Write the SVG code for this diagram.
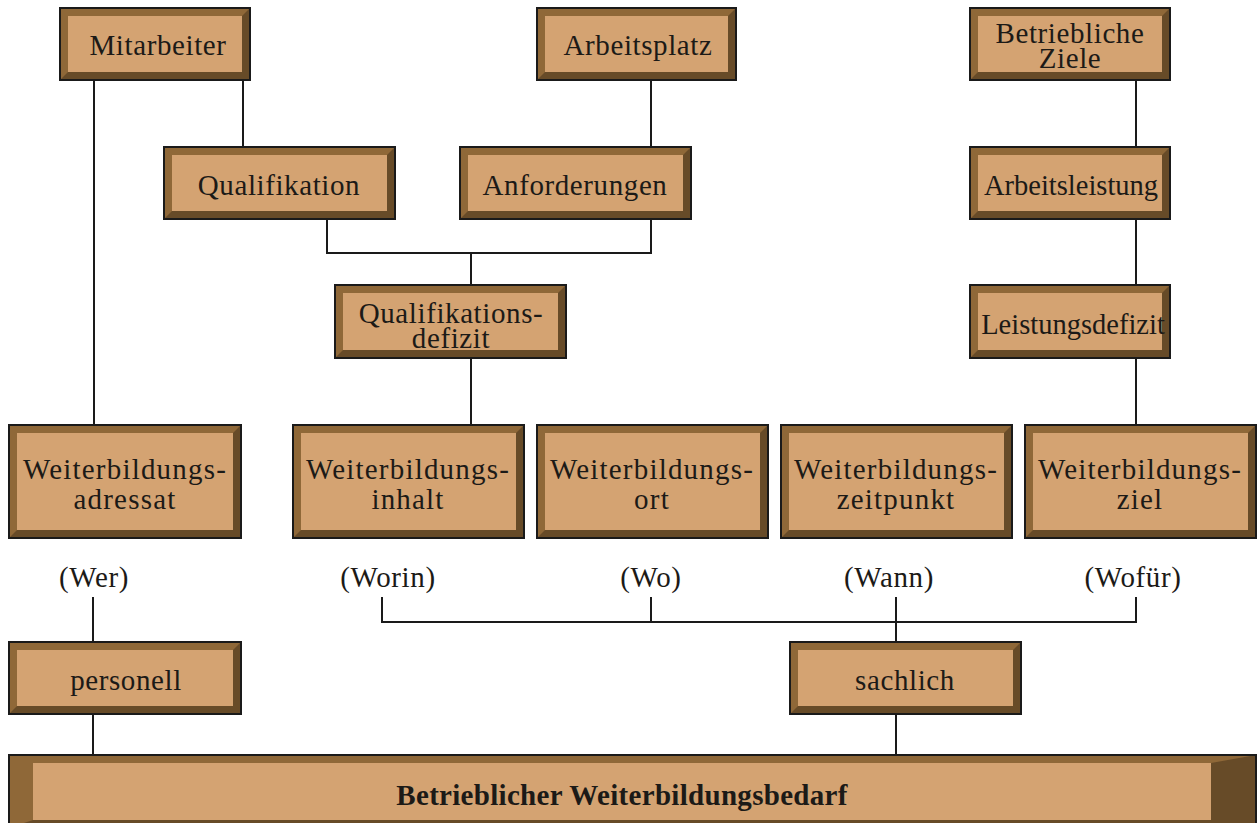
<svg xmlns="http://www.w3.org/2000/svg" width="1260" height="823" viewBox="0 0 1260 823">
  <style>
    .dark { fill: #674B28; }
    .light { fill: #8F6838; }
    .face { fill: #D4A372; }
    .edge { fill: none; stroke: #1a1a1a; stroke-width: 2; }
    .lbl { font-family: "Liberation Serif", "Times New Roman", serif; font-size: 29px; letter-spacing: 0.6px; fill: #1c1a17; text-anchor: middle; }
    .wide { letter-spacing: 1.2px; }
    .tight { font-size: 28.5px; letter-spacing: 0; }
    .bold { font-weight: bold; font-size: 29px; letter-spacing: 0.3px; }
    .conn { fill: none; stroke: #1a1a1a; stroke-width: 2; }
  </style>

  <rect width="1260" height="823" fill="#ffffff"/>

  <!-- connectors -->
  <g id="connectors" class="conn">
    <path d="M94 80 V425"/>
    <path d="M243 80 V147"/>
    <path d="M651 80 V147"/>
    <path d="M327 219 V253 H651 V219"/>
    <path d="M471 253 V285"/>
    <path d="M471 358 V425"/>
    <path d="M1136 80 V147"/>
    <path d="M1136 219 V285"/>
    <path d="M1136 358 V425"/>
    <path d="M93 597 V642"/>
    <path d="M93 714 V755"/>
    <path d="M382 597 V622 H1136 V597"/>
    <path d="M651 597 V622"/>
    <path d="M896 597 V642"/>
    <path d="M896 714 V755"/>
  </g>

  <!-- node: Mitarbeiter -->
  <g id="n-mitarbeiter">
    <rect class="dark" x="60" y="8" width="190" height="72"/>
    <polygon class="light" points="60,8 250,8 242,16 68,16 68,72 60,80"/>
    <rect class="face" x="68" y="16" width="174" height="56"/>
    <rect class="edge" x="60" y="8" width="190" height="72"/>
    <text class="lbl" x="158" y="55">Mitarbeiter</text>
  </g>

  <!-- node: Arbeitsplatz -->
  <g id="n-arbeitsplatz">
    <rect class="dark" x="537" y="8" width="199" height="72"/>
    <polygon class="light" points="537,8 736,8 728,16 545,16 545,72 537,80"/>
    <rect class="face" x="545" y="16" width="183" height="56"/>
    <rect class="edge" x="537" y="8" width="199" height="72"/>
    <text class="lbl" x="638" y="55">Arbeitsplatz</text>
  </g>

  <!-- node: Betriebliche Ziele -->
  <g id="n-ziele">
    <rect class="dark" x="970" y="8" width="200" height="72"/>
    <polygon class="light" points="970,8 1170,8 1162,16 978,16 978,72 970,80"/>
    <rect class="face" x="978" y="16" width="184" height="56"/>
    <rect class="edge" x="970" y="8" width="200" height="72"/>
    <text class="lbl" x="1070" y="43">Betriebliche</text>
    <text class="lbl" x="1070" y="68">Ziele</text>
  </g>

  <!-- node: Qualifikation -->
  <g id="n-qualifikation">
    <rect class="dark" x="164" y="147" width="231" height="72"/>
    <polygon class="light" points="164,147 395,147 387,155 172,155 172,211 164,219"/>
    <rect class="face" x="172" y="155" width="215" height="56"/>
    <rect class="edge" x="164" y="147" width="231" height="72"/>
    <text class="lbl" x="279" y="195">Qualifikation</text>
  </g>

  <!-- node: Anforderungen -->
  <g id="n-anforderungen">
    <rect class="dark" x="460" y="147" width="231" height="72"/>
    <polygon class="light" points="460,147 691,147 683,155 468,155 468,211 460,219"/>
    <rect class="face" x="468" y="155" width="215" height="56"/>
    <rect class="edge" x="460" y="147" width="231" height="72"/>
    <text class="lbl" x="575" y="195">Anforderungen</text>
  </g>

  <!-- node: Arbeitsleistung -->
  <g id="n-arbeitsleistung">
    <rect class="dark" x="970" y="147" width="200" height="72"/>
    <polygon class="light" points="970,147 1170,147 1162,155 978,155 978,211 970,219"/>
    <rect class="face" x="978" y="155" width="184" height="56"/>
    <rect class="edge" x="970" y="147" width="200" height="72"/>
    <text class="lbl tight" x="1071" y="195">Arbeitsleistung</text>
  </g>

  <!-- node: Qualifikationsdefizit -->
  <g id="n-qdefizit">
    <rect class="dark" x="335" y="285" width="231" height="73"/>
    <polygon class="light" points="335,285 566,285 558,293 343,293 343,350 335,358"/>
    <rect class="face" x="343" y="293" width="215" height="57"/>
    <rect class="edge" x="335" y="285" width="231" height="73"/>
    <text class="lbl" x="451" y="323">Qualifikations-</text>
    <text class="lbl" x="451" y="348">defizit</text>
  </g>

  <!-- node: Leistungsdefizit -->
  <g id="n-ldefizit">
    <rect class="dark" x="970" y="285" width="200" height="73"/>
    <polygon class="light" points="970,285 1170,285 1162,293 978,293 978,350 970,358"/>
    <rect class="face" x="978" y="293" width="184" height="57"/>
    <rect class="edge" x="970" y="285" width="200" height="73"/>
    <text class="lbl tight" x="1073" y="334">Leistungsdefizit</text>
  </g>

  <!-- node: Weiterbildungsadressat -->
  <g id="n-adressat">
    <rect class="dark" x="9" y="425" width="232" height="113"/>
    <polygon class="light" points="9,425 241,425 233,433 17,433 17,530 9,538"/>
    <rect class="face" x="17" y="433" width="216" height="97"/>
    <rect class="edge" x="9" y="425" width="232" height="113"/>
    <text class="lbl wide" x="125" y="479">Weiterbildungs-</text>
    <text class="lbl wide" x="125" y="509">adressat</text>
  </g>

  <!-- node: Weiterbildungsinhalt -->
  <g id="n-inhalt">
    <rect class="dark" x="293" y="425" width="231" height="113"/>
    <polygon class="light" points="293,425 524,425 516,433 301,433 301,530 293,538"/>
    <rect class="face" x="301" y="433" width="215" height="97"/>
    <rect class="edge" x="293" y="425" width="231" height="113"/>
    <text class="lbl wide" x="408" y="479">Weiterbildungs-</text>
    <text class="lbl wide" x="408" y="509">inhalt</text>
  </g>

  <!-- node: Weiterbildungsort -->
  <g id="n-ort">
    <rect class="dark" x="537" y="425" width="231" height="113"/>
    <polygon class="light" points="537,425 768,425 760,433 545,433 545,530 537,538"/>
    <rect class="face" x="545" y="433" width="215" height="97"/>
    <rect class="edge" x="537" y="425" width="231" height="113"/>
    <text class="lbl wide" x="652" y="479">Weiterbildungs-</text>
    <text class="lbl wide" x="652" y="509">ort</text>
  </g>

  <!-- node: Weiterbildungszeitpunkt -->
  <g id="n-zeitpunkt">
    <rect class="dark" x="781" y="425" width="231" height="113"/>
    <polygon class="light" points="781,425 1012,425 1004,433 789,433 789,530 781,538"/>
    <rect class="face" x="789" y="433" width="215" height="97"/>
    <rect class="edge" x="781" y="425" width="231" height="113"/>
    <text class="lbl wide" x="896" y="479">Weiterbildungs-</text>
    <text class="lbl wide" x="896" y="509">zeitpunkt</text>
  </g>

  <!-- node: Weiterbildungsziel -->
  <g id="n-ziel">
    <rect class="dark" x="1025" y="425" width="231" height="113"/>
    <polygon class="light" points="1025,425 1256,425 1248,433 1033,433 1033,530 1025,538"/>
    <rect class="face" x="1033" y="433" width="215" height="97"/>
    <rect class="edge" x="1025" y="425" width="231" height="113"/>
    <text class="lbl wide" x="1140" y="479">Weiterbildungs-</text>
    <text class="lbl wide" x="1140" y="509">ziel</text>
  </g>

  <!-- question labels -->
  <g id="questions">
    <text class="lbl" x="94" y="587">(Wer)</text>
    <text class="lbl" x="388" y="587">(Worin)</text>
    <text class="lbl" x="651" y="587">(Wo)</text>
    <text class="lbl" x="889" y="587">(Wann)</text>
    <text class="lbl" x="1133" y="587">(Wofür)</text>
  </g>

  <!-- node: personell -->
  <g id="n-personell">
    <rect class="dark" x="9" y="642" width="232" height="72"/>
    <polygon class="light" points="9,642 241,642 233,650 17,650 17,706 9,714"/>
    <rect class="face" x="17" y="650" width="216" height="56"/>
    <rect class="edge" x="9" y="642" width="232" height="72"/>
    <text class="lbl" x="126" y="690">personell</text>
  </g>

  <!-- node: sachlich -->
  <g id="n-sachlich">
    <rect class="dark" x="790" y="642" width="231" height="72"/>
    <polygon class="light" points="790,642 1021,642 1013,650 798,650 798,706 790,714"/>
    <rect class="face" x="798" y="650" width="215" height="56"/>
    <rect class="edge" x="790" y="642" width="231" height="72"/>
    <text class="lbl" x="905" y="690">sachlich</text>
  </g>

  <!-- node: Betrieblicher Weiterbildungsbedarf -->
  <g id="n-bedarf">
    <rect class="dark" x="9" y="755" width="1247" height="75"/>
    <polygon class="light" points="9,755 1256,755 1211,763 33,763 33,820 9,828"/>
    <rect class="face" x="33" y="763" width="1178" height="57"/>
    <rect class="edge" x="9" y="755" width="1247" height="75"/>
    <text class="lbl bold" x="622" y="805">Betrieblicher Weiterbildungsbedarf</text>
  </g>
</svg>
